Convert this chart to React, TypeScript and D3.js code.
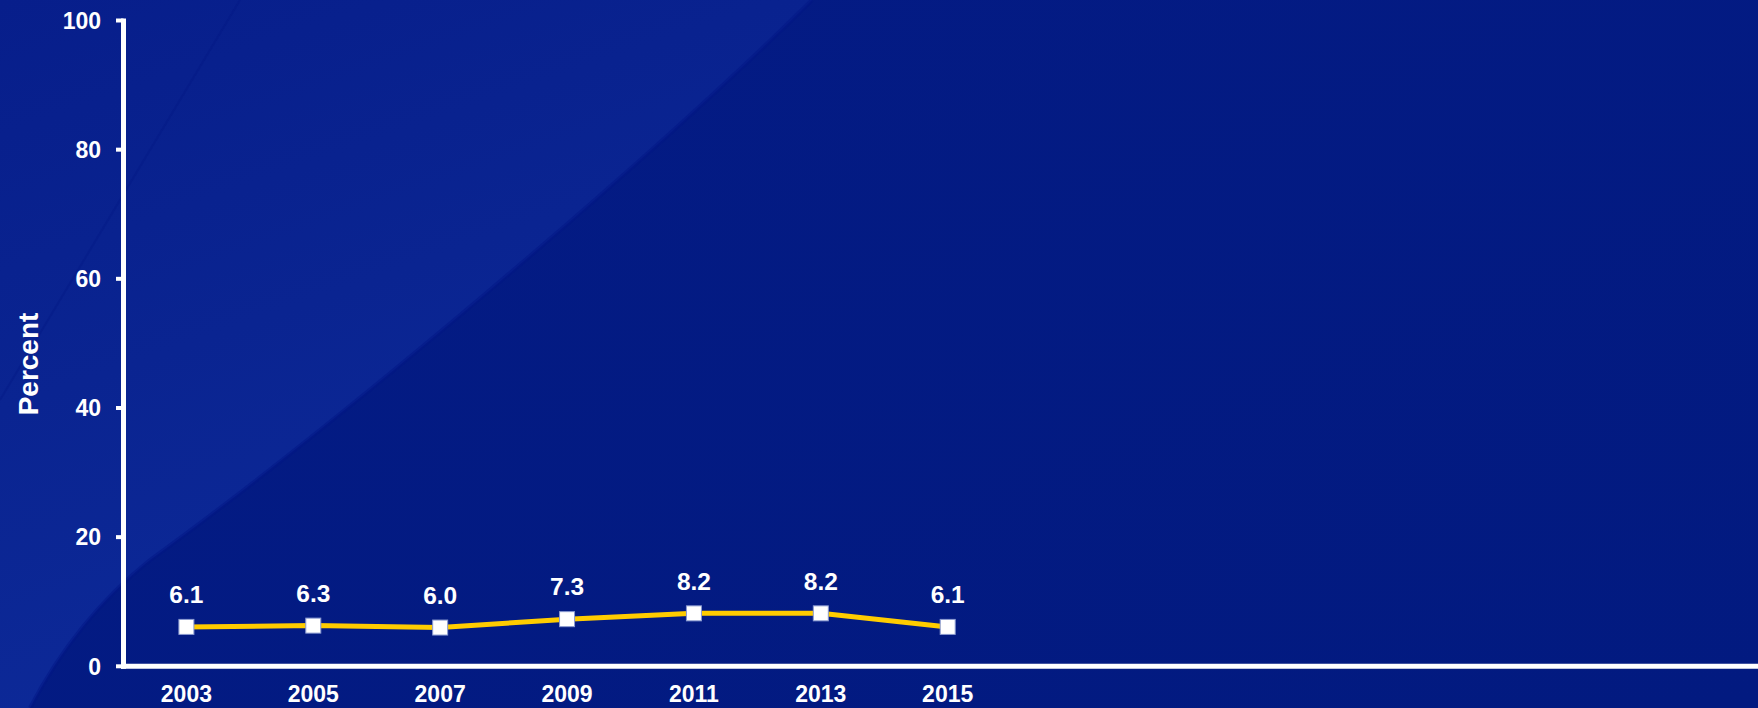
import React from "react";
import * as d3 from "d3";

const years: number[] = [2003, 2005, 2007, 2009, 2011, 2013, 2015];
const values: number[] = [6.1, 6.3, 6.0, 7.3, 8.2, 8.2, 6.1];
const valueLabels: string[] = ["6.1", "6.3", "6.0", "7.3", "8.2", "8.2", "6.1"];
const yTicks: number[] = [0, 20, 40, 60, 80, 100];
const yTitle = "Percent";

const W = 1758;
const H = 708;
const FONT = "'Liberation Sans', Arial, Helvetica, sans-serif";

export default function App() {
  const x = d3.scaleLinear().domain([2003, 2015]).range([186.4, 947.7]);
  const y = d3.scaleLinear().domain([0, 100]).range([666.3, 20.5]);
  const axisX = 123.5;

  const line = d3
    .line<number>()
    .x((_, i) => x(years[i]))
    .y((d) => y(d));

  const edge = "M812,0 C640,170 330,430 150,560 C100,600 60,650 30,708";

  return (
    <svg
      width={W}
      height={H}
      style={{ position: "absolute", left: 0, top: 0, display: "block" }}
      fontFamily={FONT}
    >
      <defs>
        <linearGradient id="leftGrad" x1="0" y1="0" x2="0.4" y2="1">
          <stop offset="0" stopColor="#071e8b" />
          <stop offset="0.5" stopColor="#0a2491" />
          <stop offset="1" stopColor="#0d2a99" />
        </linearGradient>
        <linearGradient id="rightGrad" x1="0" y1="0" x2="1" y2="1">
          <stop offset="0" stopColor="#041b85" />
          <stop offset="1" stopColor="#021a80" />
        </linearGradient>
      </defs>
      <rect x={0} y={0} width={W} height={H} fill="url(#rightGrad)" />
      <path d={`${edge} L0,708 L0,0 Z`} fill="url(#leftGrad)" />
      <path d={edge} fill="none" stroke="#021686" strokeWidth={4} opacity={0.5} />
      <path d="M240,0 L0,400" fill="none" stroke="#041884" strokeWidth={2} opacity={0.35} />

      {/* y axis */}
      <line x1={axisX} x2={axisX} y1={y(100) - 2} y2={y(0) + 2.5} stroke="#fff" strokeWidth={5} />
      {yTicks.map((t) => (
        <g key={t}>
          <line x1={116} x2={axisX} y1={y(t)} y2={y(t)} stroke="#fff" strokeWidth={4} />
          <text
            x={101}
            y={y(t) + 8.3}
            textAnchor="end"
            fill="#fff"
            fontWeight="bold"
            fontSize={23}
          >
            {t}
          </text>
        </g>
      ))}
      {/* x axis */}
      <line x1={axisX - 2.5} x2={W} y1={y(0)} y2={y(0)} stroke="#fff" strokeWidth={5} />
      {years.map((yr) => (
        <text
          key={yr}
          x={x(yr)}
          y={702}
          textAnchor="middle"
          fill="#fff"
          fontWeight="bold"
          fontSize={23}
        >
          {yr}
        </text>
      ))}

      <text
        transform={`translate(37.5,364) rotate(-90)`}
        textAnchor="middle"
        fill="#fff"
        fontWeight="bold"
        fontSize={28}
      >
        {yTitle}
      </text>

      <path d={line(values) || ""} fill="none" stroke="#FFCC00" strokeWidth={5} strokeLinejoin="round" />
      {values.map((v, i) => (
        <rect
          key={i}
          x={x(years[i]) - 7.5}
          y={y(v) - 7.5}
          width={15}
          height={15}
          fill="#fff"
          stroke="#8a9ad0"
          strokeWidth={1}
        />
      ))}
      {values.map((v, i) => (
        <text
          key={i}
          x={x(years[i])}
          y={y(v) - 23.8}
          textAnchor="middle"
          fill="#fff"
          fontWeight="bold"
          fontSize={24.5}
        >
          {valueLabels[i]}
        </text>
      ))}
    </svg>
  );
}
